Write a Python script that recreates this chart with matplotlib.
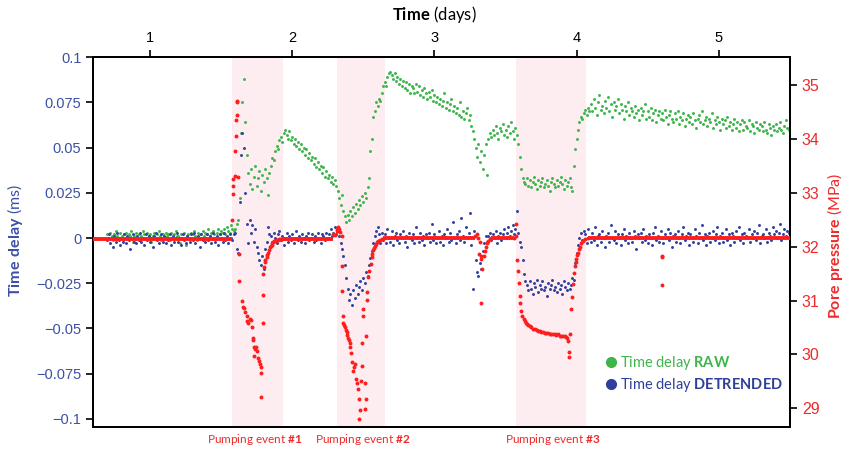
import numpy as np
import matplotlib.pyplot as plt
from matplotlib.lines import Line2D

plt.rcParams['font.family'] = ['Liberation Sans', 'DejaVu Sans']
plt.rcParams['mathtext.fontset'] = 'custom'
plt.rcParams['mathtext.rm'] = 'Lato'
plt.rcParams['mathtext.bf'] = 'Lato:bold'

# time delay, one sample every 0.01 day from day 0.70, in 1e-3 ms
day_start = 0.70
day_step = 0.01

raw_delay = [
    2, 0, 3, 1, -1, 2, 4, 1, 0, 3,
    1, -1, 2, 3, 0, 2, 1, 4, -2, 1,
    3, 0, 2, -1, 1, 4, 2, 0, 3, 1,
    2, -2, 1, 3, 0, 2, 4, 1, -1, 2,
    0, 3, 1, 2, -1, 3, 0, 2, 4, 1,
    1, -3, 2, 0, 3, -4, 1, 2, 0, 3,
    2, 4, 1, -1, 3, 2, 0, 4, 1, 3,
    2, 5, 1, 3, 4, 2, 0, 3, 5, 2,
    4, 3, 5, 2, 6, 4, 3, 7, 5, 4,
    5, 8, 10, 22, 58, 75, 88, 64, 46, 36,
    30, 38, 27, 34, 40, 29, 33, 37, 26, 35, 31, 38, 33, 24, 36,
    40, 44, 43, 48, 51, 49, 54, 56, 53, 58, 60,
    57, 55, 59, 54, 56, 52, 55, 51, 53, 49, 52, 48, 50, 46, 49, 44, 47, 43,
    45, 41, 44, 39, 42, 38, 40, 36, 39, 34, 37, 33, 35, 31, 34, 30, 32, 29,
    26, 22, 18, 24, 15, 12, 9, 13, 10, 15, 12, 17, 14, 19, 16, 21, 18, 23,
    20, 25, 22, 28, 33, 48, 55, 67, 70, 75, 73, 77, 76, 80, 84,
    86, 84, 89, 91, 92, 90, 88, 91, 87, 89, 85, 88, 84, 87, 83, 86, 82, 85, 80, 84,
    83, 80, 85, 81, 84, 79, 82, 78, 83, 80, 77, 81, 78, 82, 76, 79, 75, 78, 74, 77,
    73, 76, 80, 72, 75, 71, 74, 77, 70, 73, 69, 72, 68, 75, 67, 70, 66, 69, 72, 65,
    68, 62, 59,
    55, 50, 45, 52, 42, 48, 38, 46, 52, 35, 55, 58,
    56, 60, 57, 62, 58, 55, 61, 59, 63, 57, 60, 56, 62, 58, 64, 59, 55, 61, 57,
    52, 45, 38, 33, 31,
    30, 33, 29, 32, 28, 31, 34, 30, 27, 32, 29, 31, 33, 28, 30, 32, 29,
    26, 31, 33, 30, 28, 32, 29, 31, 34, 30, 27, 32, 29, 31, 33, 28, 26,
    40, 49, 55, 60, 64, 67, 66, 69, 71, 68, 72, 70,
    74, 70, 77, 72, 68, 75, 79, 71, 73, 69,
    76, 72, 78, 70, 74, 67, 75, 71, 73, 77,
    69, 74, 71, 66, 73, 70, 75, 68, 72, 70,
    67, 73, 69, 71, 65, 72, 68, 70, 74, 66,
    70, 67, 72, 65, 69, 71, 64, 68, 70, 66,
    69, 65, 71, 67, 63, 68, 70, 66, 64, 69,
    66, 70, 63, 67, 65, 69, 62, 66, 68, 64,
    67, 63, 69, 65, 61, 66, 68, 64, 70, 63,
    65, 67, 62, 66, 64, 69, 61, 65, 63, 67,
    64, 60, 66, 63, 65, 61, 67, 62, 64, 60,
    63, 66, 61, 64, 59, 63, 65, 60, 64, 62,
    61, 65, 59, 63, 62, 58, 64, 61, 60, 63,
    62, 59, 64, 60, 58, 63, 61, 57, 62, 60,
    63, 59, 61, 64, 60, 58, 62, 65, 61, 60,
]

detrended_delay = [
    -1, 2, -3, 0, -5, 1, -2, 3, -1, -4,
    0, -2, 2, -3, 1, -1, -6, 0, 2, -2,
    -3, 1, -1, 3, -2, 0, -4, 2, -1, 1,
    -2, 0, -5, 1, 3, -1, -3, 0, 2, -2,
    1, -3, 0, -1, 2, -4, 1, -2, 0, 3,
    -2, 0, -4, 2, -1, -3, 1, 0, -2, 2,
    -1, 3, -3, 0, 1, -5, 2, -1, 0, -2,
    2, -1, 1, -3, 3, 0, -2, 1, -4, 2,
    0, -2, 3, -1, 1, -3, 2, 0, -1, 2,
    3, -6, -8, 20, 46, 58, 50, 25, 8, -3,
    10, 3, 7, -2, 5, -5, -8, -12, -15, -10, -17, -6, -2, 6, 2,
    1, -2, 3, 0, -3, 2, 4, -1, 1, -4,
    0, 3, -2, 1, -1, 2, -3, 0, 4, -1,
    1, -2, 2, 0, -3, 1, 3, -1, 0, 2,
    -2, 1, -1, 3, 0, -3, 2, 1, -1, 3,
    0, 2, 5, 1, 3, 6, 2,
    4, 1, -3, -6, -10, -15, -22, -28, -34, -31, -37, -29, -33, -26, -31, -27,
    -24, -29, -22, -25, -19, -21, -15, -11, -7, -3, 1, 4, 6, 2, -3, 3, -1,
    2, -3, 5, 0, -2, 4, -4, 1, 3, -1,
    -3, 2, 0, 4, -2, 1, -5, 3, 0, -1,
    2, -3, 6, 0, -2, 3, -1, 1, -4, 2,
    0, 3, -2, 8, -1, 2, -3, 0, 4, -2,
    1, -4, 2, 0, 5, -2, 3, -1, 9, 0,
    -3, 2, 4, -1, 11, 1, -2, 6, 0, 3,
    14, -4,
    -28, 4, -12, -19, -21, -14, -17, -7, -3, 1,
    -2, 1, 3, -1, 2, 0, 4, -3, 1, 3,
    -1, 2, 5, 0, 3, 6, 1, 4, 7, 2,
    5, 15, 3,
    -2, -5, -12, -20, -24,
    -26, -29, -24, -28, -31, -25, -27, -23, -30, -26,
    -28, -24, -29, -27, -32, -25, -28, -26, -23, -29,
    -27, -30, -25, -28, -26, -31, -24, -27, -29, -25,
    -28, -26, -22,
    -23, -14, -8, -4, 0, 3, -1, 4,
    2, -3, 5, 0, -2,
    3, -1, 6, -4, 1, 2, -2, 4, 0, -5,
    1, 3, -2, 7, 0, -1, 4, -3, 2, 0,
    -4, 2, 5, -1, 1, -3, 3, 0, -2, 4,
    1, -6, 2, 0, 3, -2, 5, -1, 1, -3,
    2, 0, -4, 3, 6, -1, 1, -2, 4, 0,
    -3, 2, 0, 5, -1, 3, -5, 1, 2, -2,
    4, 0, -3, 2, 6, -1, 1, 3, -4, 2,
    0, -2, 5, 1, -3, 3, 0, 7, -1, 2,
    -4, 1, 3, -2, 0, 4, -1, 2, 6, -3,
    1, 3, -2, 0, 5, -1, 2, -4, 3, 1,
    -2, 4, 0, 6, -1, 2, -3, 3, 1, 0,
    5, -2, 2, 0, 4, -1, 3, 7, -3, 1,
    2, 0, 5, -2, 3, 1, -1, 6, 2, 4,
    0, 3, 8, -1, 2, 5, 1, 4, 3,
]

# pore pressure (MPa) during the pumping events
pressure_days = [
    1.576, 1.583, 1.584, 1.586, 1.597, 1.599, 1.604, 1.606, 1.611, 1.612, 1.614,
    1.618, 1.625, 1.627, 1.644, 1.651, 1.661, 1.670, 1.680, 1.684, 1.691, 1.703,
    1.710, 1.719, 1.722, 1.726, 1.731, 1.732, 1.738, 1.745, 1.750, 1.761, 1.768,
    1.773, 1.778, 1.780, 1.781, 1.792, 1.793, 1.796, 1.801, 1.808, 1.812, 1.820,
    1.826, 1.831, 1.837, 1.843, 1.849, 1.855, 1.860, 1.866, 1.872, 1.878, 1.884,
    1.890, 1.898, 1.905, 1.912, 1.925,
    2.288, 2.300, 2.312, 2.318, 2.323, 2.330, 2.335, 2.347, 2.348, 2.351, 2.354,
    2.358, 2.364, 2.370, 2.376, 2.382, 2.388, 2.394, 2.400, 2.405, 2.410, 2.417,
    2.424, 2.429, 2.434, 2.441, 2.448, 2.453, 2.464, 2.471, 2.476, 2.472, 2.483,
    2.488, 2.488, 2.495, 2.499, 2.511, 2.513, 2.516, 2.518, 2.523, 2.527, 2.534,
    2.541, 2.551, 2.558, 2.564, 2.569, 2.575, 2.581, 2.587, 2.593, 2.605, 2.616,
    2.628, 2.640,
    3.285, 3.296, 3.307, 3.314, 3.319, 3.325, 3.331, 3.331, 3.338, 3.347, 3.354,
    3.361, 3.369, 3.377, 3.389, 3.401,
    3.560, 3.571, 3.576, 3.581, 3.588, 3.595, 3.600, 3.605, 3.612, 3.619, 3.628,
    3.635, 3.642, 3.650, 3.658, 3.670, 3.682, 3.694, 3.706, 3.718, 3.729, 3.741,
    3.752, 3.764, 3.776, 3.788, 3.800, 3.811, 3.823, 3.835, 3.846, 3.858, 3.870,
    3.882, 3.893, 3.905, 3.916, 3.928, 3.935, 3.940, 3.944, 3.949, 3.956, 3.963,
    3.970, 3.975, 3.980, 3.987, 3.993, 3.999, 4.005, 4.010, 4.016, 4.022, 4.033,
    4.045, 4.060, 4.080,
    4.598, 4.600, 4.598,
]
pressure_mpa = [
    32.50, 32.97, 33.12, 33.25, 33.32, 33.77, 34.06, 34.36, 34.45, 34.68, 34.71,
    33.30, 31.87, 31.37, 31.00, 30.88, 30.87, 30.78, 30.72, 30.62, 30.59, 30.65,
    30.64, 30.51, 30.31, 30.27, 30.13, 29.97, 30.10, 30.13, 30.07, 29.94, 29.88,
    29.82, 29.76, 29.66, 29.20, 30.59, 31.11, 31.50, 31.62, 31.71, 31.75, 31.80,
    31.85, 31.89, 31.94, 31.99, 32.02, 32.04, 32.06, 32.08, 32.10, 32.11, 32.12,
    32.12, 32.13, 32.14, 32.14, 32.15,
    32.24, 32.22, 32.30, 32.33, 32.36, 32.32, 32.27, 32.20, 31.65, 31.17, 30.72,
    30.59, 30.55, 30.50, 30.45, 30.41, 30.36, 30.31, 30.27, 30.22, 30.13, 30.02,
    29.85, 29.70, 29.76, 29.82, 29.54, 29.46, 29.35, 29.17, 28.96, 28.80, 29.51,
    29.79, 30.22, 30.72, 30.84, 29.46, 28.98, 29.17, 30.35, 31.01, 31.15, 31.43,
    31.55, 31.68, 31.80, 31.87, 31.93, 31.98, 32.02, 32.05, 32.08, 32.11, 32.13,
    32.14, 32.15,
    32.20, 32.24, 32.17, 31.86, 32.08, 31.82, 31.77, 30.95, 31.59, 31.83, 31.92,
    31.99, 32.06, 32.11, 32.14, 32.16,
    32.17, 32.20, 32.42, 31.75, 31.54, 31.32, 31.09, 30.96, 30.81, 30.72, 30.66,
    30.62, 30.59, 30.57, 30.55, 30.52, 30.50, 30.48, 30.47, 30.45, 30.44, 30.43,
    30.42, 30.41, 30.40, 30.39, 30.39, 30.38, 30.38, 30.37, 30.38, 30.36, 30.37,
    30.35, 30.35, 30.34, 30.35, 30.33, 30.31, 30.25, 30.04, 29.96, 30.38, 30.84,
    31.06, 31.31, 31.52, 31.65, 31.72, 31.77, 31.84, 31.89, 31.95, 32.00, 32.06,
    32.11, 32.14, 32.16,
    31.80, 31.83, 31.28,
]
# flat pore pressure between events
flat_from = [0.60, 1.925, 2.640, 3.401, 4.080]
flat_to = [1.576, 2.288, 3.285, 3.560, 5.500]
flat_mpa = [32.15, 32.15, 32.16, 32.16, 32.17]

event_from = [1.576, 2.312, 3.574]
event_to = [1.936, 2.651, 4.064]
event_names = [r'Pumping event $\mathbf{\#1}$', r'Pumping event $\mathbf{\#2}$',
               r'Pumping event $\mathbf{\#3}$']
event_label_x = [1.738, 2.497, 3.832]

green = '#3DB54A'
blue = '#2F3F9C'
red = '#FF1E1E'
left_col = '#3C50A5'
right_col = '#EE2A2A'
shade = '#FDEDF0'

days = day_start + day_step * np.arange(len(raw_delay))
days_d = day_start + day_step * np.arange(len(detrended_delay))

fig = plt.figure(figsize=(8.54, 4.5), dpi=100)
ax = fig.add_axes([0.109, 0.051, 0.816, 0.822])
ax2 = ax.twinx()

for a, b in zip(event_from, event_to):
    ax.axvspan(a, b, color=shade, lw=0, zorder=0)

ax.scatter(days, np.array(raw_delay) / 1000, s=4.5, c=green, lw=0, zorder=2)
ax.scatter(days_d, np.array(detrended_delay) / 1000, s=4.5, c=blue, lw=0, zorder=3)

ax2.hlines(flat_mpa, flat_from, flat_to, colors=red, lw=2.8, zorder=3)
ax2.scatter(pressure_days, pressure_mpa, s=8, c=red, lw=0, zorder=4)

ax.set_xlim(0.6, 5.5)
ax.set_ylim(-0.1045, 0.1)
ax2.set_ylim(28.65, 35.52)

ax.xaxis.tick_top()
ax.xaxis.set_label_position('top')
ax.set_xticks([1, 2, 3, 4, 5])
ax.set_xticklabels(['1', '2', '3', '4', '5'], fontsize=10.5)
yt = [0.1, 0.075, 0.05, 0.025, 0, -0.025, -0.05, -0.075, -0.1]
ax.set_yticks(yt)
ax.set_yticklabels([('%g' % v).replace('-', '\u2212') for v in yt],
                   fontsize=10.5, color=left_col)
ax2.set_yticks([29, 30, 31, 32, 33, 34, 35])
ax2.set_yticklabels(['29', '30', '31', '32', '33', '34', '35'],
                    fontsize=11.5, color=right_col)

for a in (ax, ax2):
    for s in a.spines.values():
        s.set_linewidth(1.4)
    a.tick_params(width=1.2, length=5)

ax.set_xlabel(r'$\mathbf{Time}$ (days)', fontsize=12, family='Lato')
ax.xaxis.set_label_coords(0.49, 1.1)
ax.set_ylabel(r'$\mathbf{Time\ delay}$ (ms)', fontsize=11.5, family='Lato', color=left_col)
ax.yaxis.set_label_coords(-0.097, 0.505)
ax2.set_ylabel(r'$\mathbf{Pore\ pressure}$ (MPa)', fontsize=11.5, family='Lato',
               color=right_col)
ax2.yaxis.set_label_coords(1.05, 0.49)

for x, name in zip(event_label_x, event_names):
    ax.text(x, -0.035, name, transform=ax.get_xaxis_transform(), ha='center',
            va='center', fontsize=8.5, family='Lato', color=right_col)

handles = [Line2D([], [], ls='', marker='o', markersize=7, color=green),
           Line2D([], [], ls='', marker='o', markersize=7, color=blue)]
leg = ax2.legend(handles, [r'Time delay $\mathbf{RAW}$', r'Time delay $\mathbf{DETRENDED}$'],
                 loc='lower right', bbox_to_anchor=(1.0, 0.07), frameon=False,
                 handletextpad=0.1, handlelength=1.0, labelspacing=0.25,
                 borderpad=0, prop={'family': 'Lato', 'size': 10.5})
for t, c in zip(leg.get_texts(), [green, blue]):
    t.set_color(c)

fig.savefig('out.png', dpi=100)
